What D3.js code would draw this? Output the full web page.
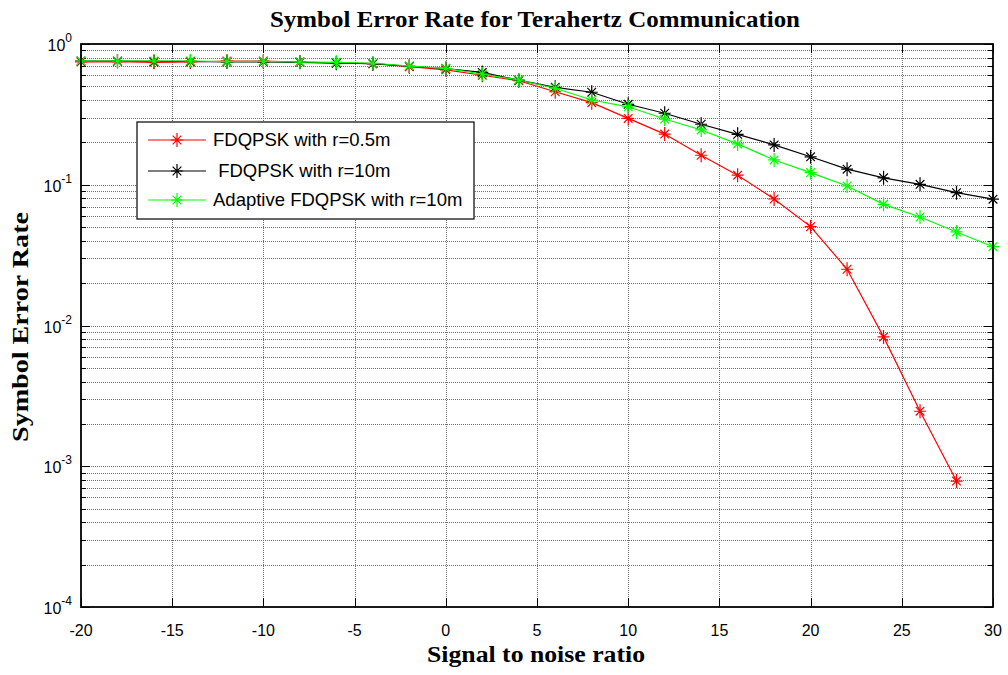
<!DOCTYPE html>
<html>
<head>
<meta charset="utf-8">
<script src="https://cdn.jsdelivr.net/npm/d3@7"></script>
<style>
  html, body { margin: 0; padding: 0; background: #fff; }
  svg { display: block; }
</style>
</head>
<body>
<svg id="chart" width="1008" height="675"></svg>
<script>
const snr = [-20,-18,-16,-14,-12,-10,-8,-6,-4,-2,0,2,4,6,8,10,12,14,16,18,20,22,24,26,28,30];
const serR05 = [0.745,0.75,0.741,0.745,0.757,0.757,0.745,0.735,0.725,0.69,0.655,0.60,0.548,0.458,0.383,0.296,0.229,0.162,0.117,0.0792,0.0504,0.0251,0.0083,0.00246,0.000785];
const serR10 = [0.757,0.757,0.752,0.752,0.745,0.745,0.741,0.73,0.725,0.695,0.67,0.628,0.553,0.492,0.454,0.373,0.322,0.269,0.228,0.192,0.158,0.129,0.112,0.1007,0.0879,0.079];
const serAdaptive = [0.757,0.757,0.757,0.757,0.75,0.752,0.745,0.741,0.73,0.698,0.672,0.612,0.555,0.485,0.40,0.358,0.293,0.245,0.195,0.150,0.122,0.098,0.0726,0.059,0.0462,0.0363];
const seriesNames = ["FDQPSK with r=0.5m", " FDQPSK with r=10m", "Adaptive FDQPSK with r=10m"];
const seriesColors = ["#ff0000", "#000000", "#00ff00"];
const xTicks = [-20,-15,-10,-5,0,5,10,15,20,25,30];
const yDecades = [0,-1,-2,-3,-4];
const titleText = "Symbol Error Rate for Terahertz Communication";
const xLabel = "Signal to noise ratio";
const yLabel = "Symbol Error Rate";

const L = 81, R = 993, T = 44, B = 607;
const svg = d3.select("#chart");
const x = d3.scaleLinear().domain([-20, 30]).range([L, R]);
const y = d3.scaleLog().domain([1e-4, 1]).range([B, T]);

const minorVals = [];
for (let d = -4; d < 0; d++) for (let k = 1; k <= 9; k++) minorVals.push(k * Math.pow(10, d));
minorVals.push(1);

// grid
const grid = svg.append("g");
grid.selectAll("line.gx").data(xTicks.slice(1, -1)).enter().append("line")
  .attr("x1", d => Math.round(x(d)) + 0.5).attr("x2", d => Math.round(x(d)) + 0.5).attr("y1", T).attr("y2", B)
  .attr("stroke", "#6e6e6e").attr("stroke-width", 1).attr("stroke-dasharray", "1,1");
grid.selectAll("line.gy").data(minorVals.filter(v => v > 1e-4 && v < 1)).enter().append("line")
  .attr("x1", L).attr("x2", R).attr("y1", d => Math.round(y(d)) + 0.5).attr("y2", d => Math.round(y(d)) + 0.5)
  .attr("stroke", "#6e6e6e").attr("stroke-width", 1).attr("stroke-dasharray", "1,1");

// inner ticks
const ticks = svg.append("g").attr("stroke", "#000").attr("stroke-width", 1);
xTicks.forEach(t => {
  const xx = Math.round(x(t)) + 0.5;
  ticks.append("line").attr("x1", xx).attr("x2", xx).attr("y1", B).attr("y2", B - 9);
  ticks.append("line").attr("x1", xx).attr("x2", xx).attr("y1", T).attr("y2", T + 9);
});
minorVals.forEach(v => {
  const isDec = Math.abs(Math.log10(v) - Math.round(Math.log10(v))) < 1e-9;
  const len = isDec ? 9 : 5;
  const yy = Math.round(y(v)) + 0.5;
  ticks.append("line").attr("x1", L).attr("x2", L + len).attr("y1", yy).attr("y2", yy);
  ticks.append("line").attr("x1", R).attr("x2", R - len).attr("y1", yy).attr("y2", yy);
});

// series
function asterisk(s) {
  const a = s * 0.72;
  return `M${-s},0H${s}M0,${-s - 1}V${s + 1}M${-a},${-a}L${a},${a}M${-a},${a}L${a},${-a}`;
}
const allSeries = [serR05, serR10, serAdaptive];
const line = d3.line().x(d => x(d[0])).y(d => y(d[1]));
allSeries.forEach((vals, i) => {
  const pts = vals.map((v, j) => [snr[j], v]);
  const g = svg.append("g");
  g.append("path").attr("d", line(pts)).attr("fill", "none")
    .attr("stroke", seriesColors[i]).attr("stroke-width", 1.2);
  g.selectAll("path.m").data(pts).enter().append("path")
    .attr("d", asterisk(6))
    .attr("transform", d => `translate(${x(d[0])},${y(d[1])})`)
    .attr("fill", "none").attr("stroke", seriesColors[i]).attr("stroke-width", 1.2);
});

// axes box
svg.append("rect").attr("x", L).attr("y", T).attr("width", R - L).attr("height", B - T)
  .attr("fill", "none").attr("stroke", "#000").attr("stroke-width", 1.8);

// x tick labels
svg.append("g").selectAll("text").data(xTicks).enter().append("text")
  .attr("x", d => x(d)).attr("y", B + 29)
  .attr("text-anchor", "middle").attr("font-family", "Liberation Sans, Arial, sans-serif")
  .attr("font-size", 16).text(d => d);

// y tick labels
yDecades.forEach(e => {
  const t = svg.append("text").attr("x", 72).attr("y", y(Math.pow(10, e)) + 7)
    .attr("text-anchor", "end").attr("font-family", "Liberation Sans, Arial, sans-serif")
    .attr("font-size", 16);
  t.append("tspan").text("10");
  t.append("tspan").attr("dy", -9).attr("font-size", 12).text(e);
});

// titles
svg.append("text").attr("x", 535).attr("y", 27).attr("text-anchor", "middle")
  .attr("font-family", "Liberation Serif, Times New Roman, serif").attr("font-weight", "bold")
  .attr("font-size", 23).attr("textLength", 530).attr("lengthAdjust", "spacingAndGlyphs")
  .text(titleText);
svg.append("text").attr("x", 536).attr("y", 662).attr("text-anchor", "middle")
  .attr("font-family", "Liberation Serif, Times New Roman, serif").attr("font-weight", "bold")
  .attr("font-size", 23).attr("textLength", 218).attr("lengthAdjust", "spacingAndGlyphs")
  .text(xLabel);
svg.append("text").attr("transform", "translate(28,327) rotate(-90)").attr("text-anchor", "middle")
  .attr("font-family", "Liberation Serif, Times New Roman, serif").attr("font-weight", "bold")
  .attr("font-size", 23).attr("textLength", 230).attr("lengthAdjust", "spacingAndGlyphs")
  .text(yLabel);

// legend
const lg = svg.append("g");
lg.append("rect").attr("x", 137).attr("y", 122).attr("width", 337).attr("height", 97)
  .attr("fill", "#fff").attr("stroke", "#000").attr("stroke-width", 1.2);
const rowY = [140, 171, 200];
seriesNames.forEach((name, i) => {
  lg.append("line").attr("x1", 148).attr("x2", 206).attr("y1", rowY[i]).attr("y2", rowY[i])
    .attr("stroke", seriesColors[i]).attr("stroke-width", 1.2);
  lg.append("path").attr("d", asterisk(6)).attr("transform", `translate(177,${rowY[i]})`)
    .attr("fill", "none").attr("stroke", seriesColors[i]).attr("stroke-width", 1.2);
  lg.append("text").attr("x", 213).attr("y", rowY[i] + 6)
    .attr("font-family", "Liberation Sans, Arial, sans-serif").attr("font-size", 18.5)
    .attr("xml:space", "preserve").style("white-space", "pre")
    .text(name);
});
</script>
</body>
</html>
